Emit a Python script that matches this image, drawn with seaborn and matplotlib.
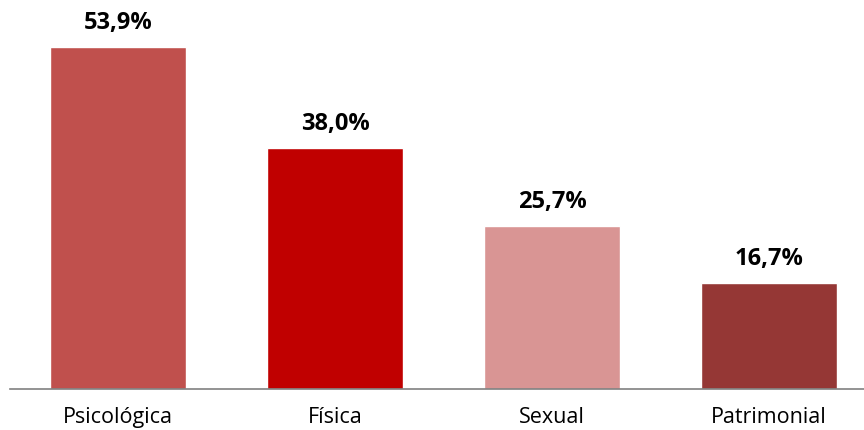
import pandas as pd
import matplotlib.pyplot as plt
import seaborn as sns

categorias = ['Psicológica', 'Física', 'Sexual', 'Patrimonial']
porcentajes = [53.9, 38.0, 25.7, 16.7]
colores = ['#C0504D', '#C00000', '#D99594', '#953735']

df = pd.DataFrame({'tipo': categorias, 'pct': porcentajes})

sns.set_style('white')
plt.rcParams['font.family'] = ['Open Sans', 'DejaVu Sans']

fig = plt.figure(figsize=(8.64, 4.3), dpi=100)
ax = fig.add_axes([9.5 / 864, 41 / 430, 868 / 864, 389 / 430])

sns.barplot(data=df, x='tipo', y='pct', hue='tipo', palette=colores,
            width=0.627, legend=False, saturation=1, ax=ax)

for i, v in enumerate(porcentajes):
    ax.text(i, v + 1.9, f"{v:.1f}%".replace('.', ','), ha='center', va='bottom',
            fontsize=17, fontweight='bold', color='black')

ax.set_ylim(0, 61.3)
ax.set_xlim(-0.5, 3.5)
ax.set_xlabel('')
ax.set_ylabel('')
ax.set_yticks([])
ax.tick_params(axis='x', length=0, pad=13, labelsize=15.5, labelcolor='black')
for s in ['top', 'right', 'left']:
    ax.spines[s].set_visible(False)
ax.spines['bottom'].set_color('#808080')
ax.spines['bottom'].set_linewidth(1.2)

plt.savefig('out.png', dpi=100)
